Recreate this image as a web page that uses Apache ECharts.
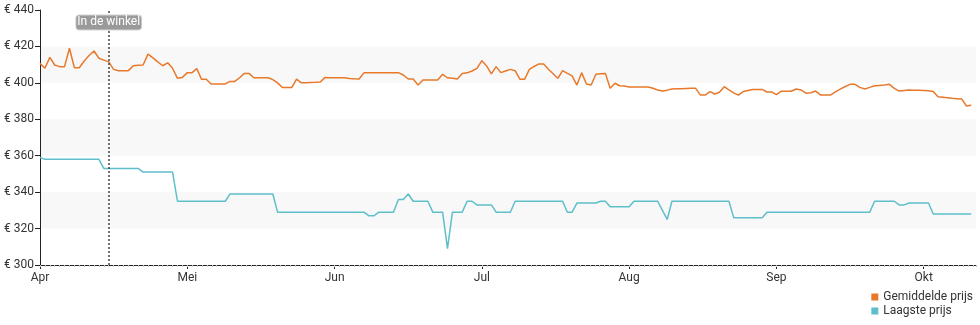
<!DOCTYPE html>
<html>
<head>
<meta charset="utf-8">
<script src="https://cdn.jsdelivr.net/npm/echarts@6/dist/echarts.min.js"></script>
<style>
  html, body { margin: 0; padding: 0; background: #fff; }
  #chart { width: 980px; height: 325px; }
</style>
</head>
<body>
<div id="chart"></div>
<script>
// Month axis: every month gets the same width on the axis
const monthLabels = ['Apr', 'Mei', 'Jun', 'Jul', 'Aug', 'Sep', 'Okt'];
const monthLengths = [30, 31, 30, 31, 31, 30, 31];

// Daily prices from 1 April to 11 October
const avgPrice = [
  // Apr
  410.7, 408, 414, 409.8, 408.9, 408.9, 419, 408.3, 408.3, 412,
  415, 417.5, 413.5, 412.5, 411.5, 407.4, 406.7, 406.7, 406.7, 409.4,
  409.6, 409.8, 415.8, 413.7, 411.5, 409.4, 411, 408, 402.5, 403,
  // Mei
  405.6, 405.6, 407.8, 402, 402, 399.4, 399.4, 399.4, 399.4, 400.8,
  400.8, 402.8, 405.2, 405.2, 402.8, 402.8, 402.8, 402.8, 401.8, 400,
  397.5, 397.5, 397.5, 402, 400, 400.1, 400.2, 400.3, 400.5, 403, 402.8,
  // Jun
  402.8, 402.8, 402.8, 402.4, 402.2, 402.1, 405.6, 405.6, 405.6, 405.6,
  405.6, 405.6, 405.6, 405.6, 404.3, 402.1, 402.1, 398.8, 401.6, 401.6,
  401.6, 401.6, 404.7, 402.8, 402.5, 402.1, 405.2, 405.5, 406.5, 408,
  // Jul
  412.2, 409.3, 404.9, 408.9, 405.6, 406.5, 407.4, 406.7, 402, 402,
  407.4, 409, 410.4, 410.4, 407.5, 405, 402.5, 406.7, 405.2, 403.8,
  398.8, 405.6, 399.4, 398.8, 404.7, 405, 405.2, 397, 399.8, 398.4, 398.3,
  // Aug
  397.7, 397.7, 397.7, 397.7, 397.7, 397, 396.1, 395.5, 396, 396.6,
  396.7, 396.8, 396.9, 397, 397, 393.3, 393.3, 395.2, 393.9, 394.8,
  397.9, 396.1, 394.5, 393.3, 395.2, 395.8, 396.4, 396.4, 396.4, 395, 395,
  // Sep
  393.5, 395.4, 395.4, 395.4, 396.6, 396.1, 394.3, 394.6, 395.5, 393.3,
  393.3, 393.3, 395, 396.6, 398, 399.2, 399.2, 397.5, 396.6, 397.5,
  398.4, 398.6, 398.8, 399.2, 397, 395.5, 395.8, 396.1, 396, 395.9,
  // Okt
  395.8, 395.7, 395.2, 392.4, 392.1, 391.8, 391.5, 391.3, 391.1, 387.3, 387.7
];

const lowPrice = [
  // Apr
  359, 358, 358, 358, 358, 358, 358, 358, 358, 358,
  358, 358, 358, 353, 353, 353, 353, 353, 353, 353,
  353, 351, 351, 351, 351, 351, 351, 351, 335, 335,
  // Mei
  335, 335, 335, 335, 335, 335, 335, 335, 335, 339,
  339, 339, 339, 339, 339, 339, 339, 339, 339, 329,
  329, 329, 329, 329, 329, 329, 329, 329, 329, 329, 329,
  // Jun
  329, 329, 329, 329, 329, 329, 329, 327, 327, 329,
  329, 329, 329, 336, 336, 339, 335, 335, 335, 335,
  329, 329, 329, 309, 329, 329, 329, 335, 335, 333,
  // Jul
  333, 333, 333, 329, 329, 329, 329, 335, 335, 335,
  335, 335, 335, 335, 335, 335, 335, 335, 329, 329,
  334, 334, 334, 334, 334, 335, 335, 332, 332, 332, 332,
  // Aug
  332, 335, 335, 335, 335, 335, 335, 330, 325, 335,
  335, 335, 335, 335, 335, 335, 335, 335, 335, 335,
  335, 335, 326, 326, 326, 326, 326, 326, 326, 329, 329,
  // Sep
  329, 329, 329, 329, 329, 329, 329, 329, 329, 329,
  329, 329, 329, 329, 329, 329, 329, 329, 329, 329,
  335, 335, 335, 335, 335, 333, 333, 334, 334, 334,
  // Okt
  334, 334, 328, 328, 328, 328, 328, 328, 328, 328, 328
];

const yTicks = [300, 320, 340, 360, 380, 400, 420, 440];
const storeDate = { month: 0, day: 15 };   // "In de winkel"
const axisEnd = { month: 6, day: 12 };

// month index + fraction of that month
function toAxis(m, d) { return m + (d - 1) / monthLengths[m]; }

const xs = [];
(function () {
  let m = 0, d = 1;
  for (let i = 0; i < avgPrice.length; i++) {
    xs.push(toAxis(m, d));
    d++;
    if (d > monthLengths[m]) { m++; d = 1; }
  }
})();

const xMax = toAxis(axisEnd.month, axisEnd.day);
const storeX = toAxis(storeDate.month, storeDate.day);
const monthTicks = monthLabels.map((_, i) => i);

const chart = echarts.init(document.getElementById('chart'), null, { renderer: 'canvas' });

const textColor = '#333';
const font = 'Roboto, "Noto Sans", sans-serif';

chart.setOption({
  animation: false,
  backgroundColor: '#fff',
  textStyle: { fontFamily: font },
  grid: { left: 40, right: 4, top: 10, bottom: 60, containLabel: false },
  legend: {
    orient: 'vertical',
    right: 7,
    top: 291,
    padding: 0,
    itemGap: 2,
    itemWidth: 7,
    itemHeight: 7,
    icon: 'rect',
    textStyle: { fontSize: 12, color: textColor, fontFamily: font },
    data: ['Gemiddelde prijs', 'Laagste prijs']
  },
  xAxis: [
    {
      type: 'value',
      min: 0,
      max: xMax,
      interval: 1,
      position: 'bottom',
      axisLine: { show: true, lineStyle: { color: '#222', width: 1 } },
      axisTick: { show: true, length: 4, customValues: monthTicks, lineStyle: { color: '#222' } },
      axisLabel: {
        customValues: monthTicks,
        formatter: v => monthLabels[Math.round(v)] || '',
        color: textColor, fontSize: 12, margin: 7, fontFamily: font
      },
      splitLine: { show: false }
    },
    {
      // daily tick marks under the axis line
      type: 'value',
      min: 0,
      max: xMax,
      interval: 1 / 30,
      position: 'bottom',
      axisLine: { show: false },
      axisTick: { show: true, length: 2, lineStyle: { color: '#c4c4c4' } },
      axisLabel: { show: false },
      splitLine: { show: false }
    }
  ],
  yAxis: {
    type: 'value',
    min: yTicks[0],
    max: yTicks[yTicks.length - 1],
    interval: 20,
    axisLine: { show: true, lineStyle: { color: '#222', width: 1 } },
    axisTick: { show: true, length: 5, lineStyle: { color: '#222' } },
    axisLabel: { formatter: v => '€ ' + v, color: textColor, fontSize: 12, margin: 6, fontFamily: font },
    splitLine: { show: false },
    splitArea: { show: true, areaStyle: { color: ['rgba(255,255,255,0)', '#f8f8f8'] } }
  },
  series: [
    {
      name: 'Gemiddelde prijs',
      type: 'line',
      xAxisIndex: 0,
      data: xs.map((x, i) => [x, avgPrice[i]]),
      symbol: 'none',
      lineStyle: { color: '#e8792b', width: 1.5 },
      itemStyle: { color: '#e8792b' },
      z: 3,
      markLine: {
        silent: true,
        symbol: ['none', 'none'],
        label: { show: false },
        lineStyle: { type: [2, 2], color: '#444', width: 1.5 },
        data: [{ xAxis: storeX }]
      },
      markPoint: {
        silent: true,
        symbol: 'rect',
        symbolSize: 1,
        itemStyle: { color: 'rgba(0,0,0,0)' },
        label: {
          show: true,
          position: 'inside',
          formatter: 'In de winkel',
          color: '#fff',
          fontSize: 12,
          fontFamily: font,
          backgroundColor: '#9a9a9a',
          borderColor: '#d4d4d4',
          borderWidth: 1,
          borderRadius: 3,
          padding: [1, 1]
        },
        data: [{ coord: [storeX, 433.2] }]
      }
    },
    {
      name: 'Laagste prijs',
      type: 'line',
      xAxisIndex: 0,
      data: xs.map((x, i) => [x, lowPrice[i]]),
      symbol: 'none',
      lineStyle: { color: '#5ebfca', width: 1.5 },
      itemStyle: { color: '#5ebfca' },
      z: 2
    }
  ]
});
</script>
</body>
</html>
